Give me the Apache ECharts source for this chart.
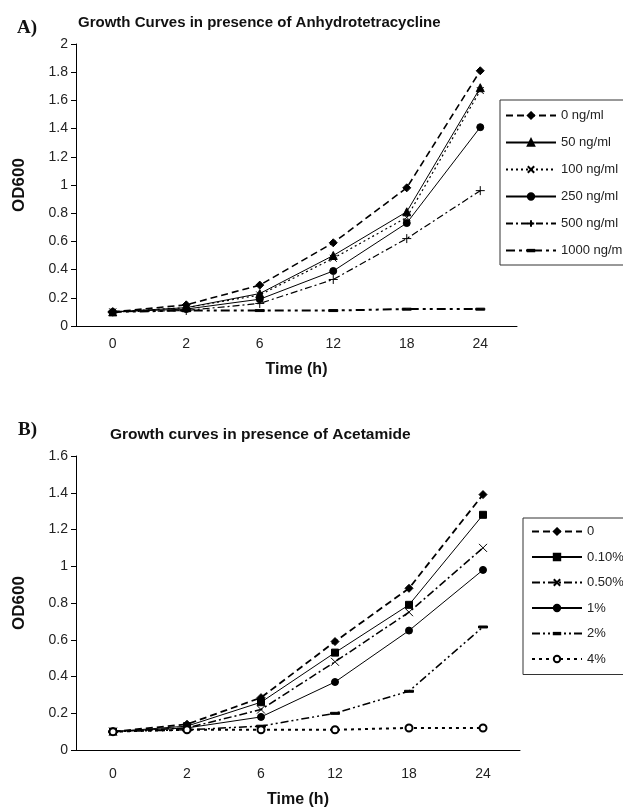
<!DOCTYPE html>
<html>
<head>
<meta charset="utf-8">
<script src="https://cdn.jsdelivr.net/npm/echarts@6/dist/echarts.min.js"></script>
<style>
  html, body { margin: 0; padding: 0; background: #fff; }
  #chart { width: 623px; height: 809px; }
</style>
</head>
<body>
<div id="chart"></div>
<script>
  // sampling times, shared by both panels
  var hours = ['0', '2', '6', '12', '18', '24'];

  // panel A: anhydrotetracycline
  var atcNames = ['0 ng/ml', '50 ng/ml', '100 ng/ml', '250 ng/ml', '500 ng/ml', '1000 ng/ml'];
  var atc0    = [0.10, 0.15, 0.29, 0.59, 0.98, 1.81];
  var atc50   = [0.10, 0.13, 0.23, 0.50, 0.81, 1.69];
  var atc100  = [0.10, 0.13, 0.22, 0.48, 0.77, 1.67];
  var atc250  = [0.10, 0.12, 0.19, 0.39, 0.73, 1.41];
  var atc500  = [0.10, 0.11, 0.16, 0.33, 0.62, 0.96];
  var atc1000 = [0.10, 0.11, 0.11, 0.11, 0.12, 0.12];
  var atcTicks = { min: 0, max: 2, step: 0.2 };

  // panel B: acetamide
  var aceNames = ['0', '0.10%', '0.50%', '1%', '2%', '4%'];
  var ace0   = [0.10, 0.14, 0.285, 0.59, 0.88, 1.39];
  var ace01  = [0.10, 0.13, 0.26, 0.53, 0.79, 1.28];
  var ace05  = [0.10, 0.12, 0.22, 0.48, 0.75, 1.10];
  var ace1   = [0.10, 0.12, 0.18, 0.37, 0.65, 0.98];
  var ace2   = [0.10, 0.11, 0.13, 0.20, 0.32, 0.67];
  var ace4   = [0.10, 0.11, 0.11, 0.11, 0.12, 0.12];
  var aceTicks = { min: 0, max: 1.6, step: 0.2 };

  var FONT = '"Liberation Sans", Arial, sans-serif';
  var INK = '#000';

  // stroke-only / flat markers, boxed in a 10x10 square so they keep their shape
  var crossX = 'path://M0,0L10,10M10,0L0,10';
  var plus = 'path://M5,0L5,10M0,5L10,5';
  var dash = 'path://M0,0M10,10M0,4L10,4L10,6.2L0,6.2Z';

  function line(name, data, idx, dashType, width, symbol, size) {
    return {
      name: name,
      type: 'line',
      xAxisIndex: idx,
      yAxisIndex: idx,
      data: data,
      symbol: symbol,
      symbolSize: size,
      lineStyle: { color: INK, width: width, type: dashType },
      itemStyle: { color: INK, borderColor: INK, borderWidth: 1 },
      emphasis: { disabled: true },
      animation: false
    };
  }

  function xAxisFor(idx, labelMargin, nameGap) {
    return {
      type: 'category',
      gridIndex: idx,
      data: hours,
      boundaryGap: true,
      name: 'Time (h)',
      nameLocation: 'middle',
      nameGap: nameGap,
      nameTextStyle: { fontFamily: FONT, fontWeight: 'bold', fontSize: 16, color: '#111' },
      axisLine: { lineStyle: { color: INK, width: 1 } },
      axisTick: { length: 5, lineStyle: { color: INK } },
      axisLabel: { fontFamily: FONT, fontSize: 14, color: '#222', margin: labelMargin },
      splitLine: { show: false }
    };
  }

  function yAxisFor(idx, t) {
    return {
      type: 'value',
      gridIndex: idx,
      min: t.min,
      max: t.max,
      interval: t.step,
      name: 'OD600',
      nameLocation: 'middle',
      nameGap: 48,
      nameTextStyle: { fontFamily: FONT, fontWeight: 'bold', fontSize: 17, color: '#111' },
      axisLine: { show: true, lineStyle: { color: INK, width: 1 } },
      axisTick: { show: true, length: 5, lineStyle: { color: INK } },
      axisLabel: { fontFamily: FONT, fontSize: 14, color: '#222', margin: 8 },
      splitLine: { show: false }
    };
  }

  var legendBase = {
    orient: 'vertical',
    itemWidth: 50,
    itemHeight: 8,
    borderColor: '#333',
    borderWidth: 1,
    borderRadius: 0,
    selectedMode: false,
    textStyle: { fontFamily: FONT, fontSize: 13, color: '#222' }
  };

  var chart = echarts.init(document.getElementById('chart'));
  chart.setOption({
    backgroundColor: '#fff',
    animation: false,
    title: [
      { text: 'Growth Curves in presence of Anhydrotetracycline', left: 73, top: 10,
        textStyle: { fontFamily: FONT, fontWeight: 'bold', fontSize: 15, color: '#111' } },
      { text: 'Growth curves in presence of Acetamide', left: 105, top: 422,
        textStyle: { fontFamily: FONT, fontWeight: 'bold', fontSize: 15.5, color: '#111' } }
    ],
    graphic: [
      { type: 'text', left: 17, top: 19,
        style: { text: 'A)', font: 'bold 19px "Liberation Serif", serif', fill: '#111' } },
      { type: 'text', left: 18, top: 421,
        style: { text: 'B)', font: 'bold 19px "Liberation Serif", serif', fill: '#111' } }
    ],
    legend: [
      Object.assign({}, legendBase, {
        data: atcNames, left: 500, top: 100, itemGap: 14, padding: [9, 14, 8, 5]
      }),
      Object.assign({}, legendBase, {
        data: aceNames, left: 523, top: 518, itemGap: 12.5, padding: [7, 14, 9, 8]
      })
    ],
    grid: [
      { left: 76, right: 106, top: 44, bottom: 483, outerBoundsMode: 'none' },
      { left: 76, right: 103, top: 456, bottom: 59, outerBoundsMode: 'none' }
    ],
    xAxis: [xAxisFor(0, 11, 36), xAxisFor(1, 17, 42)],
    yAxis: [yAxisFor(0, atcTicks), yAxisFor(1, aceTicks)],
    series: [
      line(atcNames[0], atc0, 0, [7, 4], 1.6, 'diamond', 8),
      line(atcNames[1], atc50, 0, 'solid', 1, 'triangle', 8),
      line(atcNames[2], atc100, 0, [2, 3], 1.2, crossX, 7),
      line(atcNames[3], atc250, 0, 'solid', 1, 'circle', 7),
      line(atcNames[4], atc500, 0, [7, 3, 2, 3], 1.2, plus, 9),
      line(atcNames[5], atc1000, 0, [9, 4, 3, 4, 3, 4], 2, dash, 9),

      line(aceNames[0], ace0, 1, [7, 4], 1.8, 'diamond', 8),
      line(aceNames[1], ace01, 1, 'solid', 1, 'rect', 7),
      line(aceNames[2], ace05, 1, [8, 3, 2, 3], 1.5, crossX, 8),
      line(aceNames[3], ace1, 1, 'solid', 1, 'circle', 7),
      line(aceNames[4], ace2, 1, [8, 3, 2, 3, 2, 3], 1.5, dash, 9),
      line(aceNames[5], ace4, 1, [3, 4], 2, 'emptyCircle', 7)
    ]
  });
</script>
</body>
</html>
